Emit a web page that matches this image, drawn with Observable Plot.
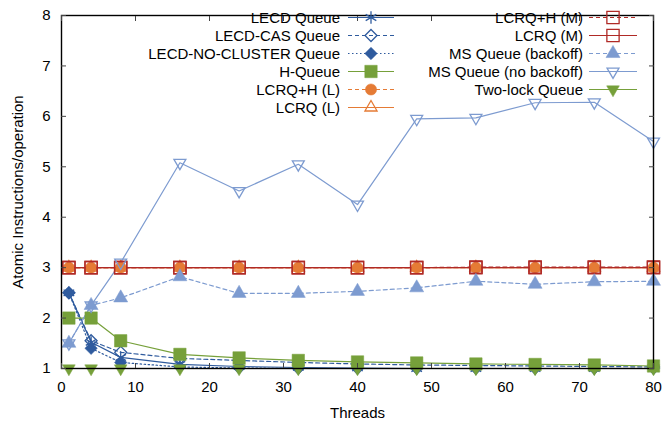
<!DOCTYPE html>
<html><head><meta charset="utf-8">
<script src="https://cdn.jsdelivr.net/npm/d3@7"></script>
<script src="https://cdn.jsdelivr.net/npm/@observablehq/plot@0.6"></script>
<style>body{margin:0;background:#fff;} svg{display:block;}</style>
</head><body><div id="chart"></div>
<script>
// ---- data ----
const threads = [1, 4, 8, 16, 24, 32, 40, 48, 56, 64, 72, 80];
const xTicks = [0, 10, 20, 30, 40, 50, 60, 70, 80];
const yTicks = [1, 2, 3, 4, 5, 6, 7, 8];

const lecdQueue        = [2.5, 1.52, 1.22, 1.08, 1.04, 1.02, 1.01, 1.0, 1.0, 1.0, 1.0, 1.0];
const lecdCasQueue     = [2.5, 1.55, 1.32, 1.2, 1.16, 1.12, 1.09, 1.07, 1.06, 1.05, 1.04, 1.03];
const lecdNoCluster    = [2.5, 1.4, 1.12, 1.03, 1.01, 1.0, 1.0, 1.0, 1.0, 1.0, 1.0, 1.0];
const hQueue           = [2.0, 2.0, 1.55, 1.28, 1.21, 1.16, 1.13, 1.11, 1.09, 1.08, 1.07, 1.05];
const lcrqHL           = [3.0, 3.0, 3.0, 3.0, 3.0, 3.0, 3.0, 3.0, 3.0, 3.0, 3.0, 3.0];
const lcrqL            = [3.0, 3.0, 3.0, 3.0, 3.0, 3.0, 3.0, 3.0, 3.0, 3.0, 3.0, 3.0];
const lcrqHM           = [3.0, 3.0, 3.0, 3.0, 3.0, 3.0, 3.0, 3.0, 3.01, 3.01, 3.01, 3.01];
const lcrqM            = [3.0, 3.0, 3.0, 3.0, 3.0, 3.0, 3.0, 3.0, 3.0, 3.0, 3.0, 3.0];
const msBackoff        = [1.5, 2.25, 2.4, 2.82, 2.49, 2.49, 2.53, 2.6, 2.73, 2.67, 2.72, 2.73];
const msNoBackoff      = [1.5, 2.25, 3.1, 5.08, 4.52, 5.05, 4.25, 5.95, 5.97, 6.27, 6.28, 5.5];
const twoLock          = [1.0, 1.0, 1.0, 1.0, 1.0, 1.0, 1.0, 1.0, 1.0, 1.0, 1.0, 1.0];

const seriesNames = ["LECD Queue", "LECD-CAS Queue", "LECD-NO-CLUSTER Queue", "H-Queue",
  "LCRQ+H (L)", "LCRQ (L)", "LCRQ+H (M)", "LCRQ (M)",
  "MS Queue (backoff)", "MS Queue (no backoff)", "Two-lock Queue"];
const seriesValues = [lecdQueue, lecdCasQueue, lecdNoCluster, hQueue, lcrqHL, lcrqL, lcrqHM, lcrqM,
  msBackoff, msNoBackoff, twoLock];

// ---- styles ----
const BLUE = "#2f5b9e", GREEN = "#76a03a", ORANGE = "#e57b35", RED = "#b02a26", LBLUE = "#7d9bd0";
const FONT = "'Liberation Sans', Arial, Helvetica, sans-serif";
const styles = [
  {color: BLUE,   dash: null,      symbol: "asterisk",  filled: false, r: 5.8, rotate: 0},
  {color: BLUE,   dash: "4,3",     symbol: "diamond2",  filled: false, r: 5.4, rotate: 0},
  {color: BLUE,   dash: "1.5,2.5", symbol: "diamond2",  filled: true,  r: 5.6, rotate: 0},
  {color: GREEN,  dash: null,      symbol: "square",    filled: true,  r: 7,   rotate: 0},
  {color: ORANGE, dash: "4,3",     symbol: "circle",    filled: true,  r: 5.6, rotate: 0},
  {color: ORANGE, dash: null,      symbol: "triangle2", filled: false, r: 5.8, rotate: 0},
  {color: RED,    dash: "4,3",     symbol: "square2",   filled: false, r: 7.8, rotate: 0},
  {color: RED,    dash: null,      symbol: "square2",   filled: false, r: 7.8, rotate: 0},
  {color: LBLUE,  dash: "4,3",     symbol: "triangle",  filled: true,  r: 5.2, rotate: 0},
  {color: LBLUE,  dash: null,      symbol: "triangle2", filled: false, r: 5.7, rotate: 180},
  {color: GREEN,  dash: null,      symbol: "triangle",  filled: true,  r: 4.7, rotate: 180}
];

const rows = seriesNames.map((name, k) => threads.map((t, i) => ({series: name, k, threads: t, value: seriesValues[k][i]})));

const marks = [];
rows.forEach((data, k) => {
  const s = styles[k];
  marks.push(Plot.line(data, {x: "threads", y: "value", stroke: s.color, strokeWidth: 1.2,
    strokeDasharray: s.dash}));
});
rows.forEach((data, k) => {
  const s = styles[k];
  marks.push(Plot.dot(data, {x: "threads", y: "value", symbol: () => s.symbol, r: s.r,
    fill: s.filled ? s.color : "none", stroke: s.color, strokeWidth: s.filled ? 0.5 : 1.3,
    rotate: s.rotate}));
});

const chart = Plot.plot({
  width: 666, height: 427,
  marginLeft: 61, marginRight: 13, marginTop: 15, marginBottom: 59,
  style: {fontFamily: FONT, fontSize: "15px", color: "#000", background: "#fff"},
  x: {domain: [0, 80]},
  y: {domain: [1, 8]},
  symbol: {type: "identity"},
  marks: [
    ...marks,
    Plot.frame({stroke: "#000", strokeWidth: 1.4}),
    Plot.axisX(xTicks, {anchor: "bottom", tickSize: -5, tickPadding: 18, label: null, fontSize: 15, stroke: "#444", tickFormat: "d"}),
    Plot.axisX(xTicks, {anchor: "top", tickSize: -5, tickFormat: () => "", label: null, stroke: "#444"}),
    Plot.axisY(yTicks, {anchor: "left", tickSize: -5, tickPadding: 16, label: null, fontSize: 15, stroke: "#444", tickFormat: "d"}),
    Plot.axisY(yTicks, {anchor: "right", tickSize: -5, tickFormat: () => "", label: null, stroke: "#444"}),
    Plot.text(["Threads"], {frameAnchor: "bottom", dy: 49, fontSize: 15}),
    Plot.text(["Atomic Instructions/operation"], {frameAnchor: "left", textAnchor: "middle", rotate: -90, dx: -43, fontSize: 15})
  ]
});
document.getElementById("chart").appendChild(chart);

// ---- in-plot legend (two columns) ----
const svg = d3.select(chart);
const symType = {asterisk: d3.symbolAsterisk, diamond: d3.symbolDiamond, diamond2: d3.symbolDiamond2,
  square: d3.symbolSquare, square2: d3.symbolSquare2, circle: d3.symbolCircle,
  triangle: d3.symbolTriangle, triangle2: d3.symbolTriangle2};
const legend = svg.append("g").attr("font-family", FONT).attr("font-size", 15);
seriesNames.forEach((name, k) => {
  const s = styles[k];
  const col = k < 6 ? 0 : 1;
  const row = k < 6 ? k : k - 6;
  const tx = col === 0 ? 340 : 583;
  const lx1 = col === 0 ? 348 : 589;
  const lx2 = col === 0 ? 394 : 637;
  const y = 17.5 + row * 18;
  legend.append("text").attr("x", tx).attr("y", y).attr("dy", "0.35em").attr("text-anchor", "end").text(name);
  legend.append("line").attr("x1", lx1).attr("x2", lx2).attr("y1", y).attr("y2", y)
    .attr("stroke", s.color).attr("stroke-width", 1.2).attr("stroke-dasharray", s.dash);
  legend.append("path").attr("d", d3.symbol(symType[s.symbol], Math.PI * s.r * s.r)())
    .attr("transform", `translate(${(lx1 + lx2) / 2},${y}) rotate(${s.rotate})`)
    .attr("fill", s.filled ? s.color : "none").attr("stroke", s.color)
    .attr("stroke-width", s.filled ? 0.5 : 1.3);
});
</script>
</body></html>
